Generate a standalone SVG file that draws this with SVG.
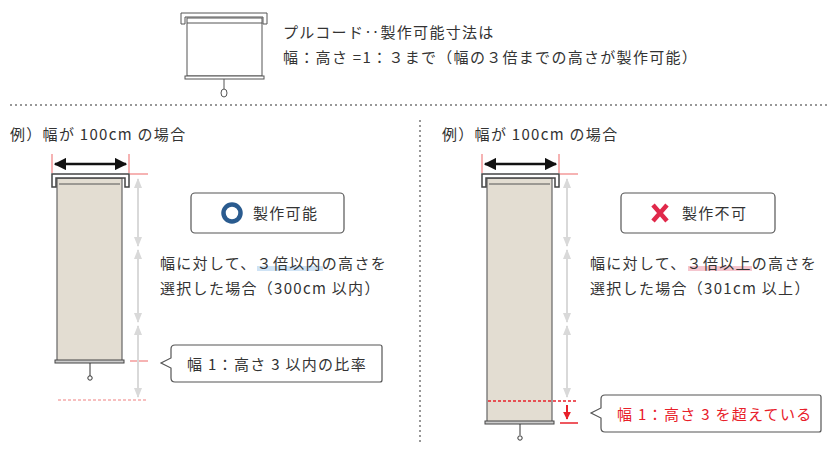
<svg xmlns="http://www.w3.org/2000/svg" width="840" height="454" viewBox="0 0 840 454">
<defs>
<style>
text{font-family:"Noto Sans CJK JP","Noto Sans",sans-serif;fill:#333;font-size:15px;letter-spacing:1.3px}
.fab{fill:#e3ddd2;stroke:#666;stroke-width:1.2}
.br{fill:#fff;stroke:#444;stroke-width:1.5}
.bar{fill:#ccc;stroke:#444;stroke-width:1}
.rt{stroke:#f08080;stroke-width:1.2}
.gy{stroke:#d9d9d9;stroke-width:2;fill:none}
.box{fill:#fff;stroke:#555;stroke-width:1.2}
</style>
<marker id="ah" viewBox="0 0 10 10" refX="9" refY="5" markerWidth="5" markerHeight="5" orient="auto-start-reverse"><path d="M0,0L10,5L0,10z" fill="#111"/></marker>
<marker id="gh" viewBox="0 0 10 10" refX="9" refY="5" markerWidth="5" markerHeight="5" orient="auto-start-reverse"><path d="M0,1L10,5L0,9z" fill="#d9d9d9"/></marker>
<marker id="rh" viewBox="0 0 10 10" refX="9" refY="5" markerWidth="4" markerHeight="4" orient="auto"><path d="M0,0L10,5L0,10z" fill="#e8202a"/></marker>
</defs>

<g id="top-icon">
<path d="M181,24V13H267V24H263V17H185V24Z" fill="#fff" stroke="#555" stroke-width="1"/>
<rect x="187" y="18" width="75" height="58" fill="#fff" stroke="#555"/>
<line x1="187" y1="23" x2="262" y2="23" stroke="#555"/>
<rect x="185" y="76" width="79" height="3" fill="#fff" stroke="#555"/>
<line x1="224" y1="79" x2="224" y2="89" stroke="#555"/>
<ellipse cx="224" cy="93" rx="3" ry="4" fill="#fff" stroke="#555"/>
</g>
<g id="top-text">
<text x="283" y="38">プルコード‥製作可能寸法は</text>
<text x="283" y="63">幅：高さ =1：３まで（幅の３倍までの高さが製作可能）</text>
</g>

<g id="dividers" stroke="#777" stroke-width="1.5" stroke-dasharray="2 3">
<line x1="10" y1="105" x2="830" y2="105"/>
<line x1="420" y1="120" x2="420" y2="445"/>
</g>

<g id="left">
<text x="10" y="140">例）幅が 100cm の場合</text>
<line class="rt" x1="52" y1="154" x2="52" y2="173"/>
<line class="rt" x1="129" y1="154" x2="129" y2="173"/>
<line x1="55" y1="164" x2="126" y2="164" stroke="#111" stroke-width="2.5" marker-start="url(#ah)" marker-end="url(#ah)"/>
<rect class="fab" x="57" y="178" width="65" height="183"/>
<line x1="59" y1="184" x2="120" y2="184" stroke="#555"/>
<path class="br" d="M52,187V174H129V187H125V178H56V187Z"/>
<rect class="bar" x="55" y="360" width="69" height="3"/>
<line x1="90" y1="363" x2="90" y2="376" stroke="#333"/>
<circle cx="90" cy="378" r="2.2" fill="#fff" stroke="#333"/>
<line class="rt" x1="130" y1="174" x2="148" y2="174"/>
<line class="rt" x1="130" y1="361" x2="148" y2="361"/>
<line class="rt" x1="58" y1="400" x2="148" y2="400" stroke-dasharray="3 2"/>
<line class="gy" x1="138" y1="179" x2="138" y2="246" marker-start="url(#gh)" marker-end="url(#gh)"/>
<line class="gy" x1="138" y1="250" x2="138" y2="322" marker-start="url(#gh)" marker-end="url(#gh)"/>
<line class="gy" x1="138" y1="326" x2="138" y2="397" marker-start="url(#gh)" marker-end="url(#gh)"/>
</g>
<g id="ok-box">
<rect class="box" x="191" y="193" width="153" height="40" rx="4"/>
<circle cx="232" cy="213" r="8.5" fill="none" stroke="#2a5b8f" stroke-width="4.5"/>
<text x="253" y="219">製作可能</text>
</g>
<g id="left-desc">
<rect x="257" y="266" width="66" height="5" fill="#cfe3f5"/>
<text x="160" y="269">幅に対して、３倍以内の高さを</text>
<text x="160" y="294">選択した場合（300cm 以内）</text>
</g>
<g id="left-callout">
<path class="box" d="M175,345H380Q382,345 382,347V380Q382,382 380,382H175Q171,382 171,378V368L161,363L171,358V349Q171,345 175,345Z"/>
<text x="187" y="370">幅 1：高さ 3 以内の比率</text>
</g>

<g id="right">
<text x="442" y="140">例）幅が 100cm の場合</text>
<line class="rt" x1="482" y1="154" x2="482" y2="173"/>
<line class="rt" x1="559" y1="154" x2="559" y2="173"/>
<line x1="485" y1="164" x2="556" y2="164" stroke="#111" stroke-width="2.5" marker-start="url(#ah)" marker-end="url(#ah)"/>
<rect class="fab" x="487" y="178" width="65" height="244"/>
<line x1="489" y1="184" x2="550" y2="184" stroke="#555"/>
<path class="br" d="M482,187V174H559V187H555V178H486V187Z"/>
<rect class="bar" x="485" y="421" width="69" height="3"/>
<line x1="520" y1="424" x2="520" y2="435" stroke="#333"/>
<circle cx="520" cy="438" r="2.2" fill="#fff" stroke="#333"/>
<line class="rt" x1="560" y1="174" x2="578" y2="174"/>
<line x1="488" y1="401" x2="578" y2="401" stroke="#e8202a" stroke-width="1.5" stroke-dasharray="3 2"/>
<line x1="567" y1="405" x2="567" y2="419" stroke="#e8202a" stroke-width="2" marker-end="url(#rh)"/>
<line x1="560" y1="423" x2="578" y2="423" stroke="#e8202a" stroke-width="1.5"/>
<line class="gy" x1="567" y1="179" x2="567" y2="246" marker-start="url(#gh)" marker-end="url(#gh)"/>
<line class="gy" x1="567" y1="250" x2="567" y2="322" marker-start="url(#gh)" marker-end="url(#gh)"/>
<line class="gy" x1="567" y1="326" x2="567" y2="397" marker-start="url(#gh)" marker-end="url(#gh)"/>
</g>
<g id="ng-box">
<rect class="box" x="621" y="193" width="154" height="40" rx="4"/>
<path d="M653,205L667,221M667,205L653,221" stroke="#e0284a" stroke-width="4.5"/>
<text x="682" y="219">製作不可</text>
</g>
<g id="right-desc">
<rect x="688" y="266" width="64" height="5" fill="#f5c6cf"/>
<text x="590" y="269">幅に対して、３倍以上の高さを</text>
<text x="590" y="294">選択した場合（301cm 以上）</text>
</g>
<g id="right-callout">
<path class="box" d="M605,395H819Q821,395 821,397V430Q821,432 819,432H605Q601,432 601,428V418L591,413L601,408V399Q601,395 605,395Z"/>
<text x="617" y="420" style="fill:#e8202a">幅 1：高さ 3 を超えている</text>
</g>
</svg>
